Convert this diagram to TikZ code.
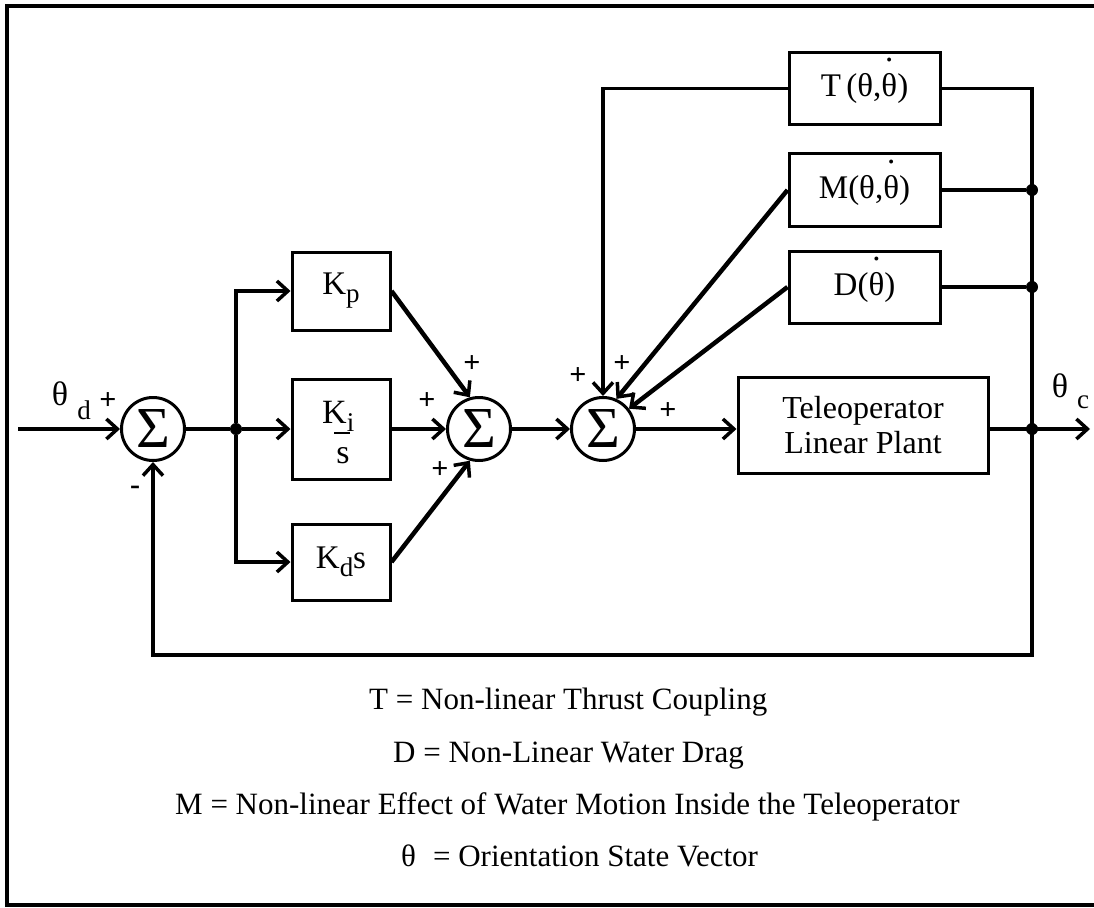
\documentclass[tikz,border=0pt]{standalone}
\usepackage{fontspec}
\setmainfont{Liberation Serif}
\usetikzlibrary{arrows.meta}
\newcommand\subtxt[1]{\raisebox{-8pt}{\fontsize{27}{27}\selectfont #1}}
\newcommand\thdot{\ooalign{θ\cr\hidewidth\raisebox{1.05em}{.}\hidewidth\cr}}
\begin{document}
\begin{tikzpicture}[x=1pt,y=-1pt,
  box/.style={draw, line width=3pt, inner sep=0pt, font=\fontsize{33}{36}\selectfont},
  sumnode/.style={draw, circle, line width=3pt, minimum size=63pt, inner sep=0pt, font=\fontsize{58}{58}\selectfont},
  conn/.style={line width=3.5pt},
  arr/.style={conn, -{Straight Barb[length=11pt,width=20pt,line width=3.5pt]}},
  diag/.style={line width=4.5pt, -{Straight Barb[length=11pt,width=20pt,line width=3.5pt]}},
  dot/.style={circle, fill, inner sep=0pt, minimum size=12pt},
  sgn/.style={font=\fontsize{30}{30}\selectfont\bfseries, inner sep=0pt},
  lbl/.style={font=\fontsize{34}{34}\selectfont, inner sep=0pt},
  sublbl/.style={font=\fontsize{27}{27}\selectfont, inner sep=0pt},
  legend/.style={font=\fontsize{31}{31}\selectfont, inner sep=0pt, anchor=base west}
]
\useasboundingbox (0,0) rectangle (1094,907);
% frame
\draw[line width=4pt] (1094,6) -- (7,6) -- (7,905) -- (1094,905);

% summing junctions
\node[sumnode] (s1) at (153,429) {Σ};
\node[sumnode] (s2) at (479,429) {Σ};
\node[sumnode] (s3) at (603,429) {Σ};

% gain blocks
\node[box, minimum width=98pt, minimum height=78pt] (kp) at (341,291) {K\subtxt{p}};
\node[box, minimum width=98pt, minimum height=100pt] (ki) at (341,429) {};
\node[lbl, anchor=base west] (kitxt) at (322,423) {K\subtxt{i}};
\node[lbl, anchor=base] (kis) at (343,463) {s};
\draw[line width=2pt] (334,433) -- (350,433);
\node[box, minimum width=98pt, minimum height=76pt] (kd) at (341,562) {K\subtxt{d}s};

% nonlinear blocks
\node[box, minimum width=151pt, minimum height=71pt] (tb) at (864.5,88.5) {T\,(θ,\thdot)};
\node[box, minimum width=151pt, minimum height=73pt] (mb) at (864.5,190) {M(θ,\thdot)};
\node[box, minimum width=151pt, minimum height=72pt] (db) at (864.5,287) {D(\thdot)};
\node[box, minimum width=250pt, minimum height=96pt, align=center, font=\fontsize{32}{35}\selectfont] (plant) at (863,425) {Teleoperator\\Linear Plant};

% coordinates and dots
\coordinate (in) at (18,429);
\coordinate (out) at (1090,429);
\coordinate (bT) at (1032,88.5);
\coordinate (bB) at (1032,655);
\coordinate (fbL) at (153,655);
\node[dot] (j) at (236,429) {};
\node[dot] (dm) at (1032,190) {};
\node[dot] (dd) at (1032,287) {};
\node[dot] (dp) at (1032,429) {};

% connectors
\draw[arr] (in) -- (s1.west);
\draw[conn] (s1.east) -- (j);
\draw[arr] (j) -- (ki.west);
\draw[arr] (j) |- (kp.west);
\draw[arr] (j) |- (kd.west);
\draw[arr] (ki.east) -- (s2.west);
\draw[diag] (kp.east) -- (s2.106);
\draw[diag] (kd.east) -- (s2.254);
\draw[arr] (s2.east) -- (s3.west);
\draw[arr] (s3.east) -- (s3.east -| plant.west);
\draw[arr] (plant.east |- dp) -- (out);
\draw[arr] (tb.west) -| (s3.north);
\draw[diag] (mb.west) -- (s3.66);
\draw[diag] (db.west) -- (s3.38);
\draw[conn] (mb.east) -- (dm);
\draw[conn] (db.east) -- (dd);
\draw[arr] (tb.east) -- (bT) -- (bB) -- (fbL) -- (s1.south);

% signs
\node[sgn] (p1) at (108,401) {+};
\node[sgn] (m1) at (135,490) {-};
\node[sgn] (p2a) at (472,364) {+};
\node[sgn] (p2b) at (427,401) {+};
\node[sgn] (p2c) at (440,470) {+};
\node[sgn] (p3a) at (578,376) {+};
\node[sgn] (p3b) at (622,364) {+};
\node[sgn] (p3c) at (668,411) {+};

% signal labels
\node[lbl] (thd) at (60,394) {θ};
\node[sublbl] (thdsub) at (84,410) {d};
\node[lbl] (thc) at (1060,386) {θ};
\node[sublbl] (thcsub) at (1083,402) {c};

% legend
\node[legend] (legT) at (369,709) {T = Non-linear Thrust Coupling};
\node[legend] (legD) at (393,762) {D = Non-Linear Water Drag};
\node[legend] (legM) at (175,814) {M = Non-linear Effect of Water Motion Inside the Teleoperator};
\node[legend] (legO) at (401,866) {θ\hspace{0.55em}= Orientation State Vector};
\end{tikzpicture}
\end{document}
